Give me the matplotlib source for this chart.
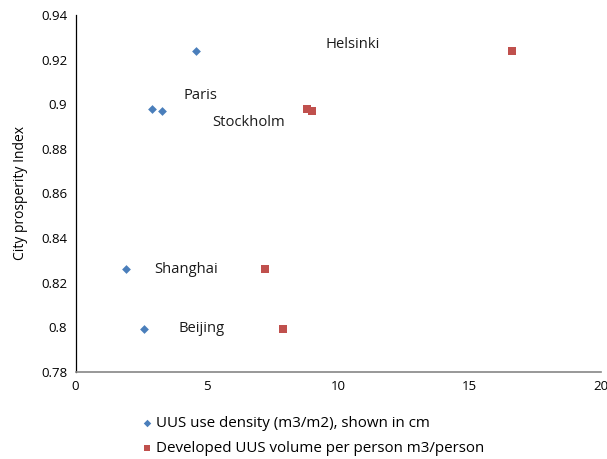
import matplotlib.pyplot as plt

# city data: UUS use density (cm) and developed UUS volume per person vs prosperity index
cities = ["Helsinki", "Paris", "Stockholm", "Shanghai", "Beijing"]
prosperity = [0.924, 0.898, 0.897, 0.826, 0.799]
uus_density = [4.6, 2.9, 3.3, 1.9, 2.6]
uus_volume = [16.6, 8.8, 9.0, 7.2, 7.9]

# label anchor positions (data coords)
label_x = [9.5, 4.1, 5.2, 3.0, 3.9]
label_y = [0.927, 0.904, 0.892, 0.8257, 0.7995]

x_ticks = [0, 5, 10, 15, 20]
y_ticks = [0.78, 0.8, 0.82, 0.84, 0.86, 0.88, 0.9, 0.92, 0.94]
y_ticklabels = ["0.78", "0.8", "0.82", "0.84", "0.86", "0.88", "0.9", "0.92", "0.94"]

plt.rcParams['font.family'] = ['Open Sans', 'DejaVu Sans']

fig = plt.figure(figsize=(6.07, 4.59), dpi=100)
ax = fig.add_axes([0.1245, 0.19, 0.866, 0.777])

ax.scatter(uus_density, prosperity, marker='D', s=20, color='#4a7ebb',
           linewidths=0, label='UUS use density (m3/m2), shown in cm', zorder=3)
ax.scatter(uus_volume, prosperity, marker='s', s=32, color='#c0504d',
           linewidths=0, label='Developed UUS volume per person m3/person', zorder=3)

for name, lx, ly in zip(cities, label_x, label_y):
    ax.text(lx, ly, name, fontsize=10.6, va='center', ha='left', color='#1a1a1a')

ax.set_xlim(0, 20)
ax.set_ylim(0.78, 0.94)
ax.set_xticks(x_ticks)
ax.set_yticks(y_ticks)
ax.set_yticklabels(y_ticklabels)
ax.tick_params(length=0, labelsize=9.5, pad=6)
ax.set_ylabel('City prosperity Index', fontsize=10, labelpad=9)

ax.spines['top'].set_visible(False)
ax.spines['right'].set_visible(False)
ax.spines['left'].set_color('black')
ax.spines['bottom'].set_color('#868686')
ax.spines['bottom'].set_linewidth(1.2)
ax.spines['left'].set_linewidth(0.9)

leg = ax.legend(loc='upper left', bbox_to_anchor=(0.095, -0.087), frameon=False,
                fontsize=10.9, handletextpad=0.1, labelspacing=0.62,
                handlelength=1.0, markerscale=0.85)

fig.savefig('out.png', dpi=100)
